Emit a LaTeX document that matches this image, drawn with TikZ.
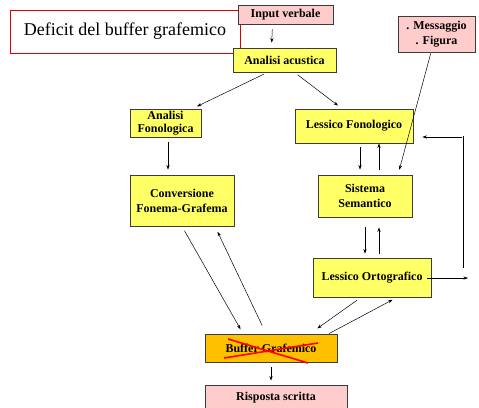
\documentclass[tikz,border=0pt]{standalone}
\usepackage{fontspec}
\setmainfont{Liberation Serif}
\usetikzlibrary{arrows.meta,calc}
\definecolor{boxyellow}{RGB}{255,255,102}
\definecolor{boxpink}{RGB}{255,204,204}
\definecolor{boxorange}{RGB}{255,192,0}
\definecolor{edgegray}{RGB}{60,60,60}
\begin{document}
\begin{tikzpicture}[x=1pt,y=-1pt,
  box/.style={draw=edgegray,line width=0.8pt,rectangle,inner sep=0pt,align=center,
    font=\fontsize{12}{15}\selectfont\bfseries},
  ybox/.style={box,fill=boxyellow},
  pbox/.style={box,fill=boxpink},
  obox/.style={box,fill=boxorange},
  arr/.style={draw=black,line width=0.5pt,-{Stealth[length=4.5pt,width=3.2pt]}},
  plain/.style={draw=black,line width=0.5pt}]
\useasboundingbox (0,0) rectangle (479,407);
\fill[white] (0,0) rectangle (479,407);

\node[draw=red!85!black,line width=0.8pt,rectangle,minimum width=230pt,minimum height=43pt,
  font=\fontsize{18}{20}\selectfont,inner sep=0pt] (title) at (125,31.5) {Deficit\ del\ buffer\ grafemico};

\node[pbox,minimum width=95pt,minimum height=19pt] (input) at (285.5,14.5) {Input verbale};
\node[ybox,minimum width=103pt,minimum height=24pt] (acu) at (284.5,60) {Analisi acustica};
\node[ybox,minimum width=71pt,minimum height=28pt,font=\fontsize{12}{13.5}\selectfont\bfseries] (fono) at (165.5,123) {Analisi\\Fonologica};
\node[ybox,minimum width=118pt,minimum height=34pt] (lfon) at (354,126) {Lessico Fonologico};
\node[pbox,minimum width=77pt,minimum height=36pt] (msg) at (436.5,34) {. Messaggio\\. Figura};
\node[ybox,minimum width=104pt,minimum height=51pt] (conv) at (182,200.5) {Conversione\\Fonema-Grafema};
\node[ybox,minimum width=94pt,minimum height=42pt] (sem) at (365,196) {Sistema\\Semantico};
\node[ybox,minimum width=118pt,minimum height=39pt] (orto) at (372,277.5) {Lessico Ortografico};
\node[obox,minimum width=132pt,minimum height=28pt] (buf) at (271,348) {Buffer Grafemico};
\node[pbox,minimum width=142pt,minimum height=26pt] (risp) at (276,398) {Risposta scritta};

\coordinate (r1) at (468,278);
\coordinate (r2) at (463,268);
\coordinate (r3) at (463,136);
\coordinate (r4) at (462,137);

% connectors
\draw[arr,shorten <=5pt,shorten >=5pt] ([xshift=-13pt]input.south) -- ([xshift=-13pt]acu.north);
\draw[arr,shorten <=4pt,shorten >=5pt] ([xshift=-17pt]acu.south) -- ([xshift=27pt]fono.north);
\draw[arr,shorten <=4pt,shorten >=5pt] ([xshift=10pt]acu.south) -- ([xshift=-12pt]lfon.north);
\draw[arr,shorten <=1pt,shorten >=5pt] ([xshift=-5.5pt]msg.south) -- ([xshift=33pt]sem.north);
\draw[arr,shorten <=5pt,shorten >=5pt] ([xshift=2.5pt]fono.south) -- ([xshift=-14pt]conv.north);
\draw[arr,shorten <=4pt,shorten >=5pt] ([xshift=6pt]lfon.south) -- ([xshift=-5pt]sem.north);
\draw[arr,shorten <=5pt,shorten >=0pt] ([xshift=14pt]sem.north) -- ([xshift=25pt]lfon.south);
\draw[arr,shorten <=10pt,shorten >=4pt] (sem.south) -- ([xshift=-7pt]orto.north);
\draw[arr,shorten <=4pt,shorten >=10pt] ([xshift=7pt]orto.north) -- ([xshift=14pt]sem.south);
\draw[arr] ([xshift=-4pt,yshift=-0.5pt]orto.east) -- (r1);
\draw[plain] (r2) -- (r3);
\draw[arr,shorten >=9pt] (r4) -- ([yshift=-11pt]lfon.east);
\draw[arr,shorten <=5pt,shorten >=5pt] (conv.south) -- ([xshift=-28pt]buf.north);
\draw[arr,shorten <=9pt,shorten >=6pt] ([xshift=-5pt]buf.north) -- ([xshift=33pt]conv.south);
\draw[arr,shorten <=5pt,shorten >=9pt] ([xshift=-11pt]orto.south) -- ([xshift=39pt]buf.north);
\draw[arr,shorten <=0pt,shorten >=5pt] ([xshift=58pt]buf.north) -- ([xshift=25pt]orto.south);
\draw[arr,shorten <=5pt,shorten >=4pt] (buf.south) -- ([xshift=-5pt]risp.north);

% red cross
\draw[red,line width=1.6pt] ($(buf.center)+(-43,-9)$) -- ($(buf.center)+(37,15)$);
\draw[red,line width=1.6pt] ($(buf.center)+(-47,10)$) -- ($(buf.center)+(47,-5)$);
\end{tikzpicture}
\end{document}
